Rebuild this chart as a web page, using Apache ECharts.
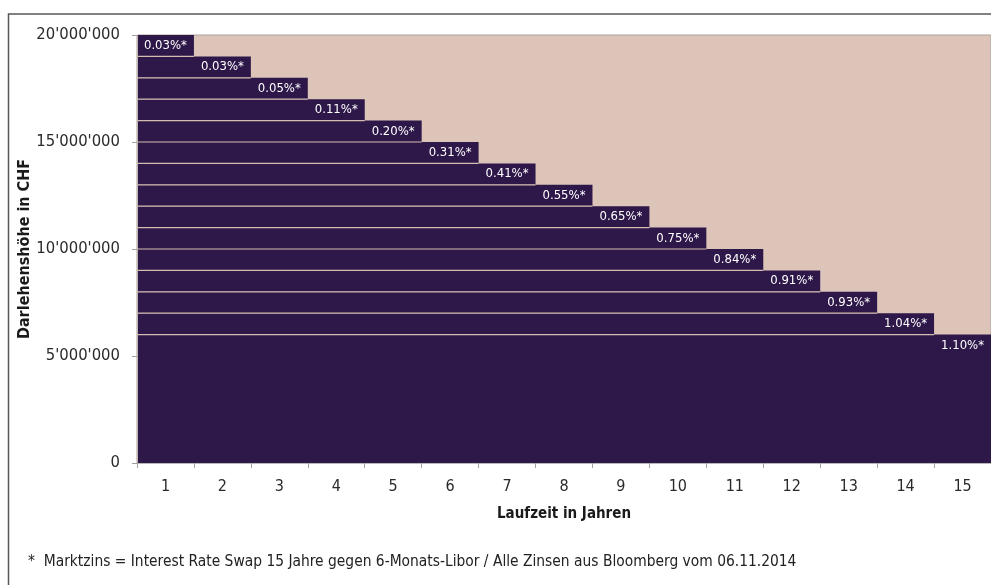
<!DOCTYPE html>
<html>
<head>
<meta charset="utf-8">
<script src="https://cdn.jsdelivr.net/npm/echarts@6/dist/echarts.min.js"></script>
<style>
  html, body { margin: 0; padding: 0; background: #ffffff; }
  #chart { width: 991px; height: 585px; }
</style>
</head>
<body>
<div id="chart"></div>
<script>
// Laufzeit (Jahre)
const years = ['1', '2', '3', '4', '5', '6', '7', '8', '9', '10', '11', '12', '13', '14', '15'];
// maximale Darlehenshöhe je Laufzeit (CHF)
const loanCeilingChf = [20000000, 19000000, 18000000, 17000000, 16000000, 15000000, 14000000,
  13000000, 12000000, 11000000, 10000000, 9000000, 8000000, 7000000, 6000000];
// Marktzins je Laufzeit (%)
const swapRatePct = [0.03, 0.03, 0.05, 0.11, 0.20, 0.31, 0.41, 0.55, 0.65, 0.75, 0.84, 0.91, 0.93, 1.04, 1.10];
// Höhe einer Zinsstufe (CHF)
const bandStepChf = 1000000;

const FONT = "'DejaVu Sans Condensed', 'Liberation Sans Narrow', 'Arial Narrow', sans-serif";
const DARK = '#2e1749';
const BEIGE = '#dcc4b8';

function chf(v) {
  return String(v).replace(/\B(?=(\d{3})+(?!\d))/g, "'");
}

// each band: [term index, upper amount, lower amount, rate]
const bands = years.map(function (y, i) {
  const last = i === years.length - 1;
  return [i, loanCeilingChf[i], last ? 0 : loanCeilingChf[i] - bandStepChf, swapRatePct[i]];
});

function renderBand(params, api) {
  const i = api.value(0);
  const ceiling = api.value(1);
  const floor = api.value(2);
  const rate = api.value(3);
  const bw = api.size([1, 0])[0];
  const left = api.coord([0, 0])[0] - bw / 2;
  const cx = api.coord([i, 0])[0];
  const right = cx + bw / 2;
  const yTop = api.coord([i, ceiling])[1];
  const yBottom = api.coord([i, floor])[1];
  const yLabel = api.coord([i, ceiling - bandStepChf / 2])[1];
  const children = [{
    type: 'rect',
    shape: { x: left + 1, y: yTop, width: right - left - 1, height: yBottom - yTop },
    style: { fill: DARK }
  }];
  if (floor > 0) {
    children.push({
      type: 'line',
      z2: 10,
      shape: { x1: left + 1, y1: yBottom, x2: right, y2: yBottom },
      style: { stroke: '#d3bdb0', lineWidth: 1.2 }
    });
  }
  children.push({
    type: 'text',
    z2: 20,
    style: {
      text: rate.toFixed(2) + '%*',
      x: cx, y: yLabel,
      align: 'center', verticalAlign: 'middle',
      fill: '#ffffff',
      font: '13px ' + FONT
    }
  });
  return { type: 'group', children: children };
}

const chart = echarts.init(document.getElementById('chart'), null, { renderer: 'canvas' });
chart.setOption({
  animation: false,
  backgroundColor: '#ffffff',
  grid: {
    left: 137, right: 0, top: 35, bottom: 122,
    outerBoundsMode: 'none',
    containLabel: false,
    show: true, backgroundColor: BEIGE,
    borderColor: '#a9a19c', borderWidth: 1
  },
  xAxis: {
    type: 'category',
    data: years,
    boundaryGap: true,
    name: 'Laufzeit in Jahren',
    nameLocation: 'middle',
    nameGap: 44,
    nameTextStyle: { fontFamily: FONT, fontSize: 15, fontWeight: 'bold', color: '#1a1a1a' },
    axisLine: { show: true, lineStyle: { color: '#b8b8b8', width: 1 } },
    axisTick: { show: true, length: 5, lineStyle: { color: '#a0a0a0' } },
    axisLabel: { fontFamily: FONT, fontSize: 16, color: '#2a2a2a', margin: 16 },
    splitLine: { show: false }
  },
  yAxis: {
    type: 'value',
    min: 0, max: 20000000, interval: 5000000,
    name: 'Darlehenshöhe in CHF',
    nameLocation: 'middle',
    nameGap: 104,
    nameMoveOverlap: false,
    nameRotate: 90,
    nameTextStyle: { fontFamily: FONT, fontSize: 16, fontWeight: 'bold', color: '#1a1a1a' },
    axisLine: { show: false },
    axisTick: { show: true, length: 5, lineStyle: { color: '#a0a0a0' } },
    axisLabel: { fontFamily: FONT, fontSize: 16.5, color: '#2a2a2a', margin: 17, formatter: chf },
    splitLine: { show: false }
  },
  graphic: [
    {
      type: 'rect',
      silent: true,
      shape: { x: 8.5, y: 14, width: 1000, height: 600 },
      style: { fill: 'none', stroke: '#585858', lineWidth: 1.5 }
    },
    {
      type: 'text',
      left: 28, top: 554,
      style: {
        text: '*  Marktzins = Interest Rate Swap 15 Jahre gegen 6-Monats-Libor / Alle Zinsen aus Bloomberg vom 06.11.2014',
        font: '15.4px ' + FONT,
        fill: '#222222'
      }
    }
  ],
  series: [{
    type: 'custom',
    renderItem: renderBand,
    clip: false,
    encode: { x: 0, y: [1, 2] },
    data: bands
  }]
});
</script>
</body>
</html>
